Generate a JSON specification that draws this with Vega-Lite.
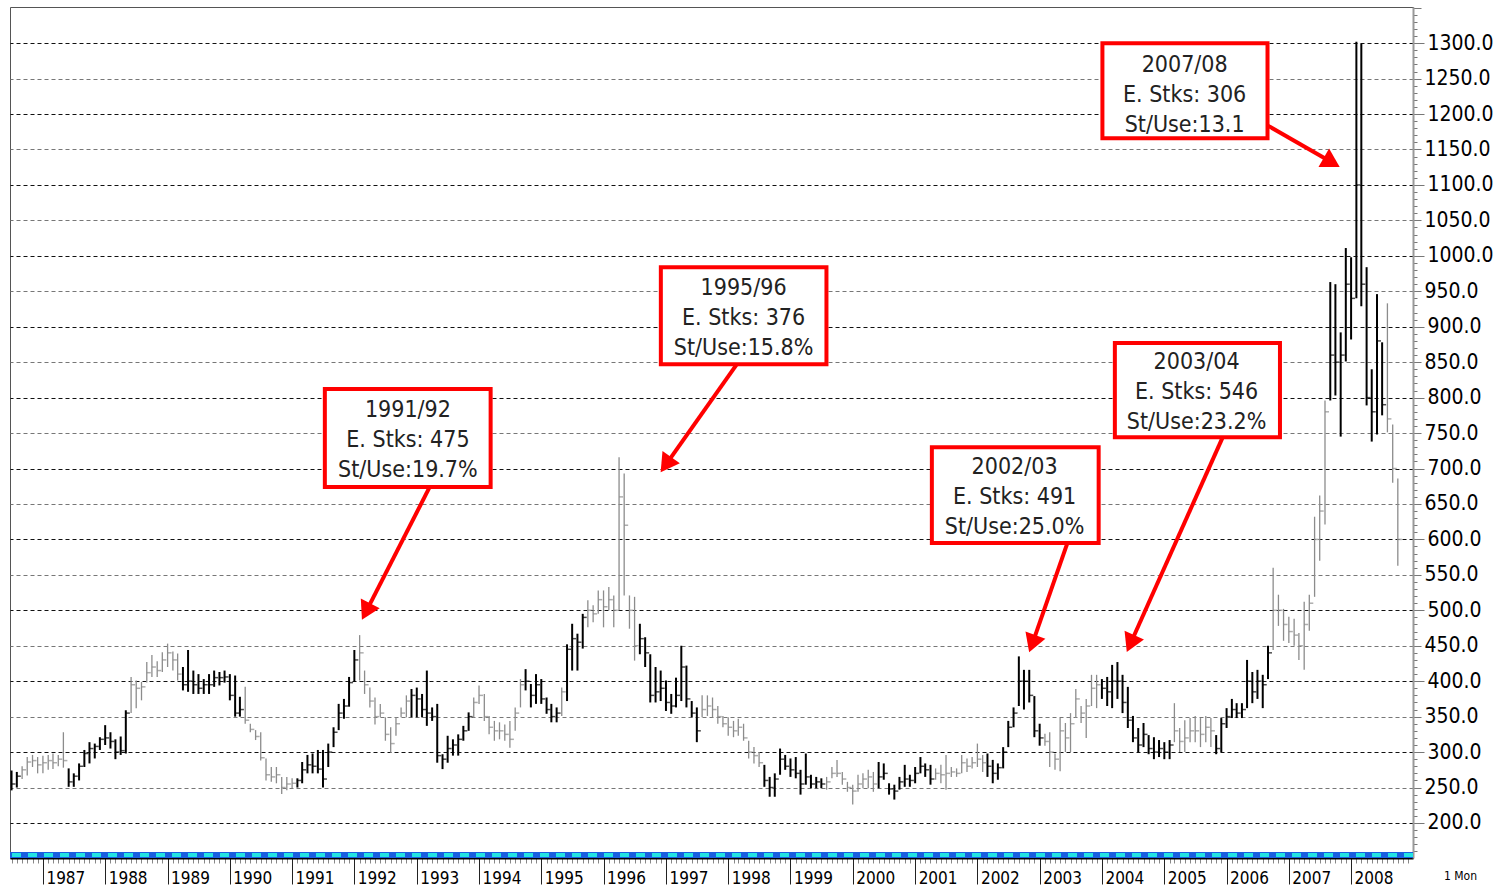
{
"$schema": "https://vega.github.io/schema/vega-lite/v6.json",
"width": 1403,
"height": 851,
"autosize": {"type": "none"},
"padding": {"left": 10, "top": 7, "right": 94, "bottom": 28},
"background": "white",
"config": {"view": {"stroke": "#555", "strokeWidth": 1}, "font": "DejaVu Sans Condensed, Liberation Sans Narrow, Liberation Sans"},
"datasets": {
"bars": [
{"d":"1986-07-01","h":274,"l":246,"c":255,"k":"b"},{"d":"1986-08-01","h":272,"l":250,"c":266,"k":"b"},{"d":"1986-09-01","h":280,"l":262,"c":275,"k":"g"},{"d":"1986-10-01","h":293,"l":267,"c":286,"k":"g"},{"d":"1986-11-01","h":296,"l":279,"c":288,"k":"g"},{"d":"1986-12-01","h":293,"l":270,"c":282,"k":"g"},
{"d":"1987-01-01","h":295,"l":270,"c":285,"k":"g"},{"d":"1987-02-01","h":296,"l":275,"c":288,"k":"g"},{"d":"1987-03-01","h":298,"l":276,"c":285,"k":"g"},{"d":"1987-04-01","h":296,"l":280,"c":290,"k":"g"},{"d":"1987-05-01","h":328,"l":278,"c":288,"k":"g"},{"d":"1987-06-01","h":277,"l":251,"c":258,"k":"b"},{"d":"1987-07-01","h":270,"l":251,"c":266,"k":"b"},{"d":"1987-08-01","h":284,"l":260,"c":280,"k":"b"},{"d":"1987-09-01","h":303,"l":279,"c":298,"k":"b"},{"d":"1987-10-01","h":314,"l":284,"c":305,"k":"b"},{"d":"1987-11-01","h":312,"l":291,"c":308,"k":"b"},{"d":"1987-12-01","h":321,"l":303,"c":318,"k":"b"},
{"d":"1988-01-01","h":338,"l":310,"c":320,"k":"b"},{"d":"1988-02-01","h":328,"l":305,"c":315,"k":"b"},{"d":"1988-03-01","h":318,"l":290,"c":300,"k":"b"},{"d":"1988-04-01","h":322,"l":296,"c":302,"k":"b"},{"d":"1988-05-01","h":359,"l":298,"c":355,"k":"b"},{"d":"1988-06-01","h":406,"l":355,"c":395,"k":"g"},{"d":"1988-07-01","h":401,"l":362,"c":390,"k":"g"},{"d":"1988-08-01","h":399,"l":373,"c":392,"k":"g"},{"d":"1988-09-01","h":427,"l":398,"c":412,"k":"g"},{"d":"1988-10-01","h":437,"l":406,"c":420,"k":"g"},{"d":"1988-11-01","h":428,"l":406,"c":415,"k":"g"},{"d":"1988-12-01","h":441,"l":413,"c":430,"k":"g"},
{"d":"1989-01-01","h":453,"l":420,"c":440,"k":"g"},{"d":"1989-02-01","h":442,"l":415,"c":430,"k":"g"},{"d":"1989-03-01","h":439,"l":401,"c":410,"k":"g"},{"d":"1989-04-01","h":420,"l":387,"c":395,"k":"b"},{"d":"1989-05-01","h":444,"l":385,"c":400,"k":"b"},{"d":"1989-06-01","h":415,"l":382,"c":395,"k":"b"},{"d":"1989-07-01","h":410,"l":382,"c":390,"k":"b"},{"d":"1989-08-01","h":403,"l":382,"c":395,"k":"b"},{"d":"1989-09-01","h":410,"l":382,"c":395,"k":"b"},{"d":"1989-10-01","h":415,"l":392,"c":405,"k":"b"},{"d":"1989-11-01","h":413,"l":394,"c":405,"k":"b"},{"d":"1989-12-01","h":415,"l":398,"c":406,"k":"b"},
{"d":"1990-01-01","h":410,"l":373,"c":380,"k":"b"},{"d":"1990-02-01","h":408,"l":350,"c":355,"k":"b"},{"d":"1990-03-01","h":378,"l":350,"c":360,"k":"b"},{"d":"1990-04-01","h":392,"l":340,"c":345,"k":"g"},{"d":"1990-05-01","h":340,"l":328,"c":332,"k":"g"},{"d":"1990-06-01","h":331,"l":317,"c":322,"k":"g"},{"d":"1990-07-01","h":328,"l":288,"c":292,"k":"g"},{"d":"1990-08-01","h":291,"l":260,"c":268,"k":"g"},{"d":"1990-09-01","h":279,"l":258,"c":265,"k":"g"},{"d":"1990-10-01","h":279,"l":256,"c":268,"k":"g"},{"d":"1990-11-01","h":265,"l":241,"c":250,"k":"g"},{"d":"1990-12-01","h":265,"l":246,"c":255,"k":"g"},
{"d":"1991-01-01","h":263,"l":249,"c":256,"k":"g"},{"d":"1991-02-01","h":263,"l":250,"c":260,"k":"b"},{"d":"1991-03-01","h":286,"l":256,"c":275,"k":"b"},{"d":"1991-04-01","h":296,"l":270,"c":282,"k":"b"},{"d":"1991-05-01","h":298,"l":270,"c":280,"k":"b"},{"d":"1991-06-01","h":303,"l":270,"c":276,"k":"b"},{"d":"1991-07-01","h":303,"l":250,"c":262,"k":"b"},{"d":"1991-08-01","h":312,"l":279,"c":300,"k":"b"},{"d":"1991-09-01","h":335,"l":307,"c":328,"k":"b"},{"d":"1991-10-01","h":368,"l":331,"c":355,"k":"b"},{"d":"1991-11-01","h":375,"l":347,"c":365,"k":"b"},{"d":"1991-12-01","h":406,"l":364,"c":398,"k":"b"},
{"d":"1992-01-01","h":444,"l":399,"c":430,"k":"b"},{"d":"1992-02-01","h":465,"l":401,"c":440,"k":"g"},{"d":"1992-03-01","h":415,"l":382,"c":395,"k":"g"},{"d":"1992-04-01","h":391,"l":363,"c":372,"k":"g"},{"d":"1992-05-01","h":377,"l":339,"c":350,"k":"g"},{"d":"1992-06-01","h":368,"l":349,"c":355,"k":"g"},{"d":"1992-07-01","h":349,"l":316,"c":325,"k":"g"},{"d":"1992-08-01","h":335,"l":299,"c":312,"k":"g"},{"d":"1992-09-01","h":349,"l":323,"c":340,"k":"g"},{"d":"1992-10-01","h":363,"l":349,"c":355,"k":"g"},{"d":"1992-11-01","h":380,"l":349,"c":372,"k":"g"},{"d":"1992-12-01","h":389,"l":349,"c":380,"k":"b"},
{"d":"1993-01-01","h":391,"l":349,"c":375,"k":"b"},{"d":"1993-02-01","h":382,"l":349,"c":360,"k":"b"},{"d":"1993-03-01","h":415,"l":337,"c":355,"k":"b"},{"d":"1993-04-01","h":363,"l":344,"c":350,"k":"b"},{"d":"1993-05-01","h":368,"l":285,"c":295,"k":"b"},{"d":"1993-06-01","h":297,"l":276,"c":290,"k":"b"},{"d":"1993-07-01","h":323,"l":285,"c":305,"k":"b"},{"d":"1993-08-01","h":318,"l":295,"c":310,"k":"b"},{"d":"1993-09-01","h":325,"l":295,"c":318,"k":"b"},{"d":"1993-10-01","h":337,"l":316,"c":330,"k":"b"},{"d":"1993-11-01","h":356,"l":330,"c":350,"k":"b"},{"d":"1993-12-01","h":377,"l":349,"c":370,"k":"g"},
{"d":"1994-01-01","h":394,"l":368,"c":380,"k":"g"},{"d":"1994-02-01","h":382,"l":344,"c":350,"k":"g"},{"d":"1994-03-01","h":351,"l":325,"c":335,"k":"g"},{"d":"1994-04-01","h":344,"l":316,"c":330,"k":"g"},{"d":"1994-05-01","h":342,"l":318,"c":330,"k":"g"},{"d":"1994-06-01","h":339,"l":316,"c":325,"k":"g"},{"d":"1994-07-01","h":344,"l":306,"c":318,"k":"g"},{"d":"1994-08-01","h":363,"l":330,"c":355,"k":"g"},{"d":"1994-09-01","h":403,"l":363,"c":395,"k":"g"},{"d":"1994-10-01","h":417,"l":387,"c":400,"k":"b"},{"d":"1994-11-01","h":396,"l":363,"c":380,"k":"b"},{"d":"1994-12-01","h":410,"l":368,"c":395,"k":"b"},
{"d":"1995-01-01","h":403,"l":368,"c":375,"k":"b"},{"d":"1995-02-01","h":377,"l":354,"c":360,"k":"b"},{"d":"1995-03-01","h":368,"l":342,"c":350,"k":"b"},{"d":"1995-04-01","h":363,"l":342,"c":355,"k":"b"},{"d":"1995-05-01","h":391,"l":351,"c":385,"k":"g"},{"d":"1995-06-01","h":452,"l":372,"c":445,"k":"b"},{"d":"1995-07-01","h":481,"l":415,"c":460,"k":"b"},{"d":"1995-08-01","h":467,"l":415,"c":455,"k":"b"},{"d":"1995-09-01","h":495,"l":446,"c":490,"k":"b"},{"d":"1995-10-01","h":514,"l":476,"c":500,"k":"g"},{"d":"1995-11-01","h":507,"l":483,"c":495,"k":"g"},{"d":"1995-12-01","h":528,"l":495,"c":515,"k":"g"},
{"d":"1996-01-01","h":528,"l":476,"c":505,"k":"g"},{"d":"1996-02-01","h":533,"l":500,"c":515,"k":"g"},{"d":"1996-03-01","h":521,"l":476,"c":500,"k":"g"},{"d":"1996-04-01","h":716,"l":500,"c":660,"k":"g"},{"d":"1996-05-01","h":693,"l":521,"c":620,"k":"g"},{"d":"1996-06-01","h":521,"l":474,"c":500,"k":"g"},{"d":"1996-07-01","h":519,"l":429,"c":450,"k":"g"},{"d":"1996-08-01","h":481,"l":438,"c":460,"k":"b"},{"d":"1996-09-01","h":462,"l":420,"c":440,"k":"b"},{"d":"1996-10-01","h":438,"l":370,"c":380,"k":"b"},{"d":"1996-11-01","h":420,"l":370,"c":385,"k":"b"},{"d":"1996-12-01","h":415,"l":372,"c":390,"k":"b"},
{"d":"1997-01-01","h":401,"l":358,"c":370,"k":"b"},{"d":"1997-02-01","h":382,"l":354,"c":365,"k":"b"},{"d":"1997-03-01","h":405,"l":363,"c":380,"k":"b"},{"d":"1997-04-01","h":450,"l":372,"c":420,"k":"b"},{"d":"1997-05-01","h":422,"l":363,"c":375,"k":"b"},{"d":"1997-06-01","h":372,"l":349,"c":355,"k":"b"},{"d":"1997-07-01","h":363,"l":314,"c":330,"k":"b"},{"d":"1997-08-01","h":380,"l":349,"c":360,"k":"g"},{"d":"1997-09-01","h":380,"l":351,"c":365,"k":"g"},{"d":"1997-10-01","h":377,"l":349,"c":360,"k":"g"},{"d":"1997-11-01","h":365,"l":340,"c":350,"k":"g"},{"d":"1997-12-01","h":351,"l":335,"c":340,"k":"g"},
{"d":"1998-01-01","h":349,"l":323,"c":335,"k":"g"},{"d":"1998-02-01","h":344,"l":321,"c":330,"k":"g"},{"d":"1998-03-01","h":347,"l":323,"c":335,"k":"g"},{"d":"1998-04-01","h":340,"l":316,"c":320,"k":"g"},{"d":"1998-05-01","h":316,"l":291,"c":300,"k":"g"},{"d":"1998-06-01","h":307,"l":284,"c":295,"k":"g"},{"d":"1998-07-01","h":300,"l":279,"c":285,"k":"g"},{"d":"1998-08-01","h":282,"l":251,"c":260,"k":"b"},{"d":"1998-09-01","h":265,"l":237,"c":250,"k":"b"},{"d":"1998-10-01","h":270,"l":237,"c":262,"k":"b"},{"d":"1998-11-01","h":305,"l":268,"c":290,"k":"b"},{"d":"1998-12-01","h":296,"l":275,"c":280,"k":"b"},
{"d":"1999-01-01","h":291,"l":265,"c":275,"k":"b"},{"d":"1999-02-01","h":293,"l":263,"c":270,"k":"b"},{"d":"1999-03-01","h":275,"l":240,"c":255,"k":"b"},{"d":"1999-04-01","h":298,"l":254,"c":265,"k":"b"},{"d":"1999-05-01","h":268,"l":249,"c":255,"k":"b"},{"d":"1999-06-01","h":265,"l":249,"c":258,"k":"b"},{"d":"1999-07-01","h":263,"l":249,"c":255,"k":"b"},{"d":"1999-08-01","h":265,"l":247,"c":258,"k":"g"},{"d":"1999-09-01","h":279,"l":263,"c":270,"k":"g"},{"d":"1999-10-01","h":289,"l":265,"c":270,"k":"g"},{"d":"1999-11-01","h":272,"l":254,"c":262,"k":"g"},{"d":"1999-12-01","h":258,"l":244,"c":250,"k":"g"},
{"d":"2000-01-01","h":254,"l":226,"c":245,"k":"g"},{"d":"2000-02-01","h":268,"l":244,"c":255,"k":"g"},{"d":"2000-03-01","h":270,"l":249,"c":262,"k":"g"},{"d":"2000-04-01","h":275,"l":249,"c":265,"k":"g"},{"d":"2000-05-01","h":272,"l":244,"c":255,"k":"g"},{"d":"2000-06-01","h":286,"l":249,"c":265,"k":"b"},{"d":"2000-07-01","h":284,"l":261,"c":270,"k":"b"},{"d":"2000-08-01","h":256,"l":240,"c":248,"k":"b"},{"d":"2000-09-01","h":254,"l":233,"c":245,"k":"b"},{"d":"2000-10-01","h":265,"l":247,"c":258,"k":"b"},{"d":"2000-11-01","h":282,"l":251,"c":262,"k":"b"},{"d":"2000-12-01","h":268,"l":251,"c":260,"k":"b"},
{"d":"2001-01-01","h":279,"l":256,"c":270,"k":"b"},{"d":"2001-02-01","h":293,"l":270,"c":280,"k":"b"},{"d":"2001-03-01","h":284,"l":265,"c":275,"k":"b"},{"d":"2001-04-01","h":282,"l":254,"c":262,"k":"b"},{"d":"2001-05-01","h":277,"l":261,"c":270,"k":"g"},{"d":"2001-06-01","h":282,"l":256,"c":268,"k":"g"},{"d":"2001-07-01","h":296,"l":247,"c":270,"k":"g"},{"d":"2001-08-01","h":279,"l":265,"c":272,"k":"g"},{"d":"2001-09-01","h":277,"l":265,"c":270,"k":"g"},{"d":"2001-10-01","h":296,"l":270,"c":285,"k":"g"},{"d":"2001-11-01","h":291,"l":272,"c":280,"k":"g"},{"d":"2001-12-01","h":293,"l":277,"c":285,"k":"g"},
{"d":"2002-01-01","h":312,"l":279,"c":290,"k":"g"},{"d":"2002-02-01","h":296,"l":272,"c":285,"k":"g"},{"d":"2002-03-01","h":298,"l":265,"c":280,"k":"b"},{"d":"2002-04-01","h":289,"l":256,"c":270,"k":"b"},{"d":"2002-05-01","h":284,"l":261,"c":278,"k":"b"},{"d":"2002-06-01","h":307,"l":277,"c":300,"k":"b"},{"d":"2002-07-01","h":344,"l":307,"c":335,"k":"b"},{"d":"2002-08-01","h":363,"l":335,"c":355,"k":"b"},{"d":"2002-09-01","h":435,"l":365,"c":400,"k":"b"},{"d":"2002-10-01","h":416,"l":360,"c":400,"k":"b"},{"d":"2002-11-01","h":416,"l":370,"c":380,"k":"b"},{"d":"2002-12-01","h":379,"l":321,"c":330,"k":"b"},
{"d":"2003-01-01","h":340,"l":309,"c":320,"k":"b"},{"d":"2003-02-01","h":326,"l":309,"c":315,"k":"g"},{"d":"2003-03-01","h":328,"l":279,"c":300,"k":"g"},{"d":"2003-04-01","h":298,"l":275,"c":290,"k":"g"},{"d":"2003-05-01","h":348,"l":273,"c":330,"k":"g"},{"d":"2003-06-01","h":341,"l":300,"c":320,"k":"g"},{"d":"2003-07-01","h":355,"l":300,"c":340,"k":"g"},{"d":"2003-08-01","h":389,"l":348,"c":375,"k":"g"},{"d":"2003-09-01","h":365,"l":341,"c":355,"k":"g"},{"d":"2003-10-01","h":375,"l":320,"c":365,"k":"g"},{"d":"2003-11-01","h":409,"l":365,"c":390,"k":"g"},{"d":"2003-12-01","h":409,"l":362,"c":395,"k":"g"},
{"d":"2004-01-01","h":403,"l":375,"c":390,"k":"b"},{"d":"2004-02-01","h":406,"l":365,"c":385,"k":"b"},{"d":"2004-03-01","h":423,"l":362,"c":400,"k":"b"},{"d":"2004-04-01","h":427,"l":375,"c":400,"k":"b"},{"d":"2004-05-01","h":409,"l":355,"c":370,"k":"b"},{"d":"2004-06-01","h":392,"l":334,"c":345,"k":"b"},{"d":"2004-07-01","h":351,"l":314,"c":320,"k":"b"},{"d":"2004-08-01","h":334,"l":300,"c":310,"k":"b"},{"d":"2004-09-01","h":341,"l":307,"c":325,"k":"b"},{"d":"2004-10-01","h":324,"l":297,"c":305,"k":"b"},{"d":"2004-11-01","h":321,"l":290,"c":300,"k":"b"},{"d":"2004-12-01","h":317,"l":293,"c":305,"k":"b"},
{"d":"2005-01-01","h":314,"l":290,"c":300,"k":"b"},{"d":"2005-02-01","h":317,"l":290,"c":310,"k":"b"},{"d":"2005-03-01","h":369,"l":314,"c":330,"k":"g"},{"d":"2005-04-01","h":334,"l":300,"c":315,"k":"g"},{"d":"2005-05-01","h":345,"l":300,"c":320,"k":"g"},{"d":"2005-06-01","h":348,"l":314,"c":330,"k":"g"},{"d":"2005-07-01","h":351,"l":314,"c":330,"k":"g"},{"d":"2005-08-01","h":348,"l":307,"c":325,"k":"g"},{"d":"2005-09-01","h":351,"l":314,"c":335,"k":"g"},{"d":"2005-10-01","h":348,"l":307,"c":330,"k":"g"},{"d":"2005-11-01","h":324,"l":297,"c":305,"k":"b"},{"d":"2005-12-01","h":348,"l":300,"c":340,"k":"b"},
{"d":"2006-01-01","h":362,"l":334,"c":350,"k":"b"},{"d":"2006-02-01","h":375,"l":348,"c":360,"k":"b"},{"d":"2006-03-01","h":369,"l":348,"c":355,"k":"b"},{"d":"2006-04-01","h":369,"l":348,"c":360,"k":"b"},{"d":"2006-05-01","h":430,"l":362,"c":400,"k":"b"},{"d":"2006-06-01","h":413,"l":369,"c":385,"k":"b"},{"d":"2006-07-01","h":416,"l":375,"c":400,"k":"b"},{"d":"2006-08-01","h":409,"l":362,"c":395,"k":"b"},{"d":"2006-09-01","h":450,"l":403,"c":440,"k":"b"},{"d":"2006-10-01","h":560,"l":444,"c":500,"k":"g"},{"d":"2006-11-01","h":522,"l":478,"c":500,"k":"g"},{"d":"2006-12-01","h":502,"l":457,"c":480,"k":"g"},
{"d":"2007-01-01","h":491,"l":454,"c":470,"k":"g"},{"d":"2007-02-01","h":488,"l":450,"c":465,"k":"g"},{"d":"2007-03-01","h":468,"l":430,"c":450,"k":"g"},{"d":"2007-04-01","h":512,"l":416,"c":480,"k":"g"},{"d":"2007-05-01","h":522,"l":471,"c":510,"k":"g"},{"d":"2007-06-01","h":632,"l":519,"c":600,"k":"g"},{"d":"2007-07-01","h":662,"l":570,"c":640,"k":"g"},{"d":"2007-08-01","h":796,"l":621,"c":780,"k":"g"},{"d":"2007-09-01","h":963,"l":796,"c":860,"k":"b"},{"d":"2007-10-01","h":960,"l":803,"c":850,"k":"b"},{"d":"2007-11-01","h":892,"l":745,"c":860,"k":"b"},{"d":"2007-12-01","h":1011,"l":851,"c":960,"k":"b"},
{"d":"2008-01-01","h":998,"l":882,"c":940,"k":"b"},{"d":"2008-02-01","h":1302,"l":940,"c":1100,"k":"b"},{"d":"2008-03-01","h":1299,"l":929,"c":960,"k":"b"},{"d":"2008-04-01","h":984,"l":789,"c":800,"k":"b"},{"d":"2008-05-01","h":840,"l":738,"c":780,"k":"b"},{"d":"2008-06-01","h":946,"l":748,"c":880,"k":"b"},{"d":"2008-07-01","h":878,"l":775,"c":790,"k":"b"},{"d":"2008-08-01","h":933,"l":751,"c":770,"k":"g"},{"d":"2008-09-01","h":762,"l":680,"c":700,"k":"g"},{"d":"2008-10-01","h":686,"l":563,"c":600,"k":"g"}
],
"boxes": [
{"x1":"1991-07-12","x2":"1994-03-10","y1":812,"y2":674,"tx":"1992-11-10","ty":782,"t":"1991/92\nE. Stks: 475\nSt/Use:19.7%"},
{"x1":"1996-12-02","x2":"1999-07-31","y1":984,"y2":847,"tx":"1998-04-01","ty":954,"t":"1995/96\nE. Stks: 376\nSt/Use:15.8%"},
{"x1":"2001-04-09","x2":"2003-12-13","y1":730,"y2":595,"tx":"2002-08-07","ty":702,"t":"2002/03\nE. Stks: 491\nSt/Use:25.0%"},
{"x1":"2004-03-17","x2":"2006-11-10","y1":877,"y2":744,"tx":"2005-07-09","ty":850,"t":"2003/04\nE. Stks: 546\nSt/Use:23.2%"},
{"x1":"2004-01-04","x2":"2006-08-29","y1":1300,"y2":1166,"tx":"2005-04-30","ty":1269,"t":"2007/08\nE. Stks: 306\nSt/Use:13.1"}
],
"arrows": [
{"x1":"1993-03-18","y1":674,"x2":"1992-03-18","y2":502,"a":207},
{"x1":"1998-02-20","y1":847,"x2":"1997-01-11","y2":709,"a":215},
{"x1":"2003-06-13","y1":595,"x2":"2002-11-25","y2":457,"a":200},
{"x1":"2005-12-09","y1":744,"x2":"2004-06-24","y2":457,"a":204},
{"x1":"2006-08-29","y1":1184,"x2":"2007-08-25","y2":1134,"a":120}
]
},
"layer": [
{
"data": {"name": "bars"},
"mark": {"type": "rule"},
"encoding": {
"x": {"field": "d", "type": "temporal", "title": "1 Mon",
"scale": {"domain": [{"year": 1986, "month": 6, "date": 22}, {"year": 2008, "month": 12, "date": 29}]},
"axis": {"orient": "bottom", "title": "1 Mon", "grid": false, "tickCount": {"interval": "month", "step": 1},
"labelExpr": "month(datum.value) === 0 ? timeFormat(datum.value, '%Y') : ''",
"labelAlign": "left", "labelBaseline": "top", "labelOffset": 3, "labelOverlap": false, "labelFlush": false,
"labelFontSize": 17, "labelColor": "#000", "labelPadding": -14,
"tickSize": {"condition": {"test": "month(datum.value) === 0", "value": 26}, "value": 5},
"tickColor": {"condition": {"test": "month(datum.value) === 0", "value": "#222"}, "value": "#888"},
"tickWidth": 1, "domainColor": "#000", "domainWidth": 2,
"titleX": 1450, "titleY": 17, "titleAlign": "center", "titleBaseline": "middle", "titleFontSize": 12, "titleFontWeight": "normal", "titleColor": "#000", "titleAngle": 0}},
"y": {"field": "l", "type": "quantitative", "title": null,
"scale": {"domain": [150.6, 1351], "nice": false, "zero": false},
"axis": {"orient": "right", "title": null, "tickCount": 120, "labelOverlap": false, "labelFlush": false,
"labelExpr": "datum.value % 50 === 0 && datum.value <= 1300 ? format(datum.value, '.1f') : ''",
"labelFontSize": 21, "labelColor": "#000", "labelPadding": 3,
"tickSize": {"condition": [{"test": "datum.value % 100 === 0", "value": 11}, {"test": "datum.value % 50 === 0", "value": 8}], "value": 4},
"tickColor": "#777", "tickWidth": 1, "domainColor": "#999", "domainWidth": 2,
"grid": true, "gridDash": [4, 3], "gridWidth": 1,
"gridOpacity": {"condition": {"test": "datum.value % 50 === 0 && datum.value <= 1300", "value": 1}, "value": 0},
"gridColor": {"condition": {"test": "datum.value % 100 === 0", "value": "#111"}, "value": "#777"}}},
"y2": {"field": "h"},
"color": {"condition": {"test": "datum.k === 'b'", "value": "#000000"}, "value": "#8c8c8c"},
"strokeWidth": {"condition": {"test": "datum.k === 'b'", "value": 2}, "value": 1.3}
}
},
{
"data": {"values": [{"s": 1}]},
"mark": {"type": "rule", "stroke": "#1a5fe0", "strokeWidth": 6},
"encoding": {"y": {"datum": 155}}
},
{
"data": {"values": [{"s": 1}]},
"mark": {"type": "rule", "stroke": "#22e3e3", "strokeWidth": 4, "strokeDash": [9, 7]},
"encoding": {"y": {"datum": 155}}
},
{
"data": {"name": "bars"},
"mark": {"type": "tick", "orient": "horizontal", "size": 4, "thickness": 1.5, "xOffset": 2},
"encoding": {
"x": {"field": "d", "type": "temporal"},
"y": {"field": "c", "type": "quantitative"},
"color": {"condition": {"test": "datum.k === 'b'", "value": "#000000"}, "value": "#8c8c8c"}
}
},
{
"data": {"name": "arrows"},
"mark": {"type": "rule", "stroke": "#ff0000", "strokeWidth": 4},
"encoding": {
"x": {"field": "x1", "type": "temporal"},
"y": {"field": "y1", "type": "quantitative"},
"x2": {"field": "x2"},
"y2": {"field": "y2"}
}
},
{
"data": {"name": "arrows"},
"mark": {"type": "point", "shape": "triangle", "filled": true, "size": 450, "color": "#ff0000", "opacity": 1, "strokeWidth": 0},
"encoding": {
"x": {"field": "x2", "type": "temporal"},
"y": {"field": "y2", "type": "quantitative"},
"angle": {"field": "a", "type": "quantitative", "scale": null}
}
},
{
"data": {"name": "boxes"},
"mark": {"type": "rect", "fill": "#ffffff", "stroke": "#ff0000", "strokeWidth": 4},
"encoding": {
"x": {"field": "x1", "type": "temporal"},
"x2": {"field": "x2"},
"y": {"field": "y1", "type": "quantitative"},
"y2": {"field": "y2"}
}
},
{
"data": {"name": "boxes"},
"mark": {"type": "text", "fontSize": 23, "lineHeight": 30, "lineBreak": "\n", "align": "center", "baseline": "middle", "color": "#222222"},
"encoding": {
"x": {"field": "tx", "type": "temporal"},
"y": {"field": "ty", "type": "quantitative"},
"text": {"field": "t"}
}
}
]
}
